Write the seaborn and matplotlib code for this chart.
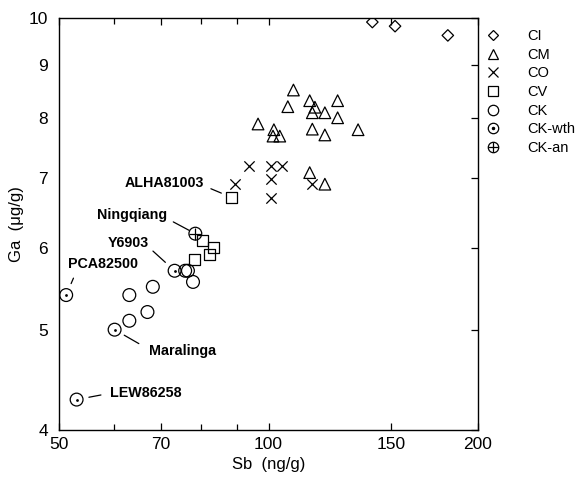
import matplotlib
matplotlib.use("Agg")
import matplotlib.pyplot as plt
from matplotlib.lines import Line2D
from matplotlib.ticker import FixedLocator, NullFormatter, FixedFormatter
import seaborn as sns
import pandas as pd

# ---- data (Sb ng/g, Ga ug/g) ----
ci_sb = [141, 152, 181]
ci_ga = [9.91, 9.82, 9.62]
cm_sb = [96.6, 108.6, 106.6, 101.8, 101.5, 103.8, 114.6, 116.6, 115.6, 120.5,
         125.7, 125.7, 115.6, 120.5, 134.5, 114.6, 120.5]
cm_ga = [7.90, 8.52, 8.21, 7.80, 7.69, 7.69, 8.32, 8.20, 8.10, 8.10,
         8.32, 8.01, 7.81, 7.71, 7.80, 7.09, 6.91]
co_sb = [93.7, 89.4, 100.7, 104.6, 100.7, 100.7, 115.6]
co_ga = [7.20, 6.91, 7.20, 7.20, 6.99, 6.70, 6.91]
cv_sb = [88.5, 80.4, 83.3, 82.3, 78.3]
cv_ga = [6.71, 6.10, 6.00, 5.91, 5.84]
ck_sb = [75.9, 76.6, 77.9, 68.2, 63.1, 63.1, 67.0]
ck_ga = [5.70, 5.70, 5.56, 5.50, 5.40, 5.10, 5.20]
wth_sb = [73.3, 51.2, 60.1, 53.0]
wth_ga = [5.70, 5.40, 5.00, 4.28]
an_sb = [78.5]
an_ga = [6.19]

x_ticks = [50, 70, 100, 150, 200]
x_minor = [60, 80, 90]
y_ticks = [4, 5, 6, 7, 8, 9, 10]

labels = ["ALHA81003", "Ningqiang", "Y6903", "PCA82500", "Maralinga", "LEW86258"]
label_pts = [(88.5, 6.71), (78.5, 6.19), (73.3, 5.70), (51.2, 5.40), (60.1, 5.00), (53.0, 4.28)]

sns.set_style("ticks")
plt.rcParams['font.family'] = ['Liberation Sans', 'DejaVu Sans']
plt.rcParams['text.color'] = 'black'
plt.rcParams['axes.labelcolor'] = 'black'

fig = plt.figure(figsize=(5.8, 4.83), dpi=100)
ax = fig.add_axes([59/580, 1-430/483, (478-59)/580, (430-18)/483])

lw = 0.9
def open_pts(xs, ys, marker, s):
    d = pd.DataFrame({"x": xs, "y": ys})
    sns.scatterplot(data=d, x="x", y="y", ax=ax, marker=marker, s=s,
                    facecolor="none", edgecolor="black", linewidth=lw, legend=False, zorder=3)

def line_pts(xs, ys, marker, s):
    d = pd.DataFrame({"x": xs, "y": ys})
    sns.scatterplot(data=d, x="x", y="y", ax=ax, marker=marker, s=s,
                    color="black", linewidth=lw, legend=False, zorder=4)

open_pts(ci_sb, ci_ga, "D", 34)
open_pts(cm_sb, cm_ga, "^", 70)
line_pts(co_sb, co_ga, "x", 55)
open_pts(cv_sb, cv_ga, "s", 62)
open_pts(ck_sb, ck_ga, "o", 85)
open_pts(wth_sb, wth_ga, "o", 85)
d = pd.DataFrame({"x": wth_sb, "y": wth_ga})
sns.scatterplot(data=d, x="x", y="y", ax=ax, marker="o", s=4, color="black",
                linewidth=0, legend=False, zorder=5)
open_pts(an_sb, an_ga, "o", 85)
line_pts(an_sb, an_ga, "+", 85)

ax.set_xscale("log")
ax.set_yscale("log")
ax.set_xlim(50, 200)
ax.set_ylim(4, 10)
ax.xaxis.set_major_locator(FixedLocator(x_ticks))
ax.xaxis.set_major_formatter(FixedFormatter([str(v) for v in x_ticks]))
ax.xaxis.set_minor_locator(FixedLocator(x_minor))
ax.xaxis.set_minor_formatter(NullFormatter())
ax.yaxis.set_major_locator(FixedLocator(y_ticks))
ax.yaxis.set_major_formatter(FixedFormatter([str(v) for v in y_ticks]))
ax.yaxis.set_minor_locator(FixedLocator([]))
ax.yaxis.set_minor_formatter(NullFormatter())

ax.tick_params(which="both", direction="in", top=True, right=True, left=False,
               labelsize=12.5, width=0.9, colors="black")
ax.tick_params(which="major", length=5)
ax.tick_params(which="minor", length=4)
ax.tick_params(axis="y", pad=8)
ax.tick_params(axis="x", pad=5)
for sp in ax.spines.values():
    sp.set_linewidth(1.0)
    sp.set_color("black")

ax.set_xlabel("Sb  (ng/g)", fontsize=12, labelpad=4, color="black")
ax.set_ylabel("Ga  (\u03bcg/g)", fontsize=12, labelpad=3, color="black")

# annotations
offsets = [(-20, 10.4), (-20, 13.7), (-18.7, 20), (1.4, 17.3), (25, -15.4), (23.8, 5)]
has = ["right", "right", "right", "left", "left", "left"]
vas = ["center", "center", "center", "bottom", "center", "center"]
relposs = [(1, 0.3), (1, 0.2), (1, 0.2), (0.12, 0.0), (0, 0.6), (0, 0.45)]
shA = [3, 2, 1, 3, 6, 4]
shB = [8, 5, 9, 9, 8, 9]
for lab, pt, off, ha, va, rp, a, b in zip(labels, label_pts, offsets, has, vas, relposs, shA, shB):
    ax.annotate(lab, xy=pt, xytext=off, textcoords="offset points", ha=ha, va=va,
                fontsize=10.3, fontweight="bold", color="black",
                arrowprops=dict(arrowstyle="-", color="black", lw=0.9,
                                shrinkA=a, shrinkB=b, relpos=rp))

# legend
def h(marker, ms, color="none", mec="black"):
    return Line2D([], [], linestyle="none", marker=marker, markersize=ms,
                  markerfacecolor=color, markeredgecolor=mec, markeredgewidth=0.9, color="black")

handles = [h("D", 4.8), h("^", 7), h("x", 6.5, color="black"), h("s", 6.5), h("o", 7.5),
           (h("o", 7.5), h("o", 1.6, color="black")), (h("o", 7.5), h("+", 7.5, color="black"))]
names = ["CI", "CM", "CO", "CV", "CK", "CK-wth", "CK-an"]
fig.legend(handles, names, loc="upper left", bbox_to_anchor=(484/580, 1-29/483),
           frameon=False, fontsize=10.5, handlelength=1.2, handletextpad=1.8,
           labelspacing=0.32, borderaxespad=0, borderpad=0)

fig.savefig("out.png", dpi=100, facecolor="white")
